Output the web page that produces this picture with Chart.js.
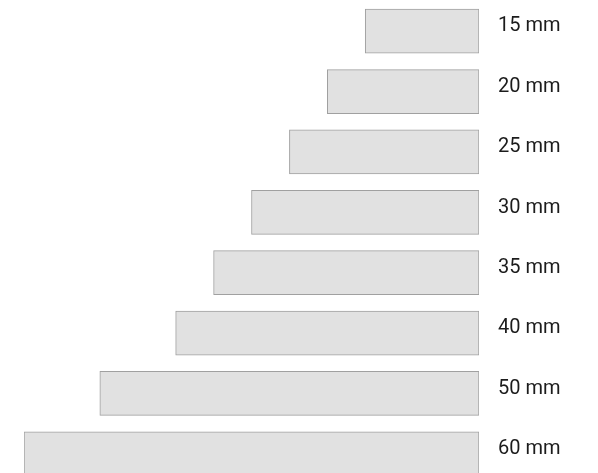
<!DOCTYPE html>
<html>
<head>
<meta charset="utf-8">
<script src="https://cdn.jsdelivr.net/npm/chart.js@4"></script>
<style>
  html, body { margin: 0; padding: 0; background: #fff; overflow: hidden; }
  #wrap { width: 598px; height: 486px; }
</style>
</head>
<body>
<div id="wrap"><canvas id="sizeChart" width="598" height="486"></canvas></div>
<script>
// focal lengths shown as bars, longest at the bottom
const categories = ['15 mm', '20 mm', '25 mm', '30 mm', '35 mm', '40 mm', '50 mm', '60 mm'];
const lengths = [15, 20, 25, 30, 35, 40, 50, 60];
const axisMax = 60;

// draw the "xx mm" text to the right of each bar
const sideLabels = {
    id: 'sideLabels',
    afterDatasetsDraw(chart) {
        const ctx = chart.ctx;
        const yScale = chart.scales.y;
        ctx.save();
        ctx.font = '20px Roboto';
        ctx.fillStyle = '#1c1c1c';
        ctx.textAlign = 'left';
        ctx.textBaseline = 'alphabetic';
        categories.forEach((label, i) => {
            const y = yScale.getPixelForValue(i);
            ctx.fillText(label, chart.chartArea.right + 19, y + 0.3);
        });
        ctx.restore();
    }
};

const ctx = document.getElementById('sizeChart').getContext('2d');
new Chart(ctx, {
    type: 'bar',
    data: {
        labels: categories,
        datasets: [{
            data: lengths,
            backgroundColor: '#e1e1e1',
            borderColor: '#a0a0a0',
            borderWidth: 1,
            borderSkipped: false,
            barThickness: 44
        }]
    },
    options: {
        indexAxis: 'y',
        responsive: false,
        animation: false,
        layout: {
            padding: { left: 24, right: 119, top: 1, bottom: 2 }
        },
        plugins: {
            legend: { display: false },
            tooltip: { enabled: false }
        },
        scales: {
            x: { display: false, reverse: true, min: 0, max: axisMax },
            y: { display: false }
        }
    },
    plugins: [sideLabels]
});
</script>
</body>
</html>
